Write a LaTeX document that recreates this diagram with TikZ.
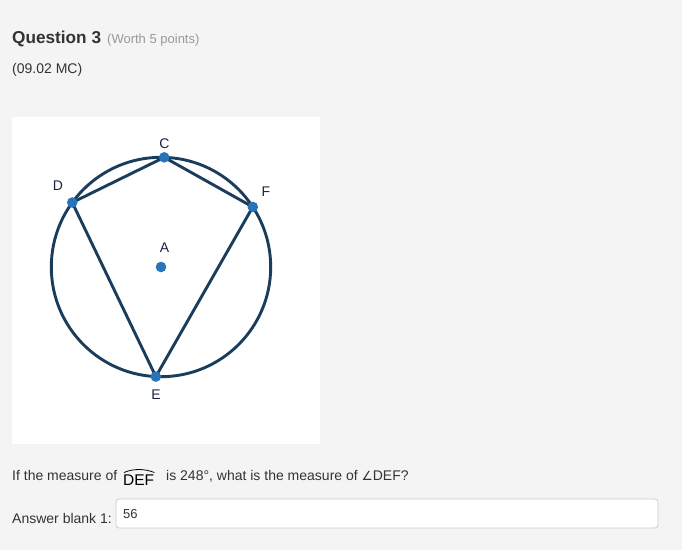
\documentclass[tikz,border=0pt]{standalone}
\usepackage{fontspec}
\setmainfont{Liberation Sans}
\newfontfamily\dejavu{DejaVu Sans}
\usetikzlibrary{calc}
\definecolor{bg}{HTML}{F4F4F4}
\definecolor{txt}{HTML}{333333}
\definecolor{muted}{HTML}{999999}
\definecolor{navy}{HTML}{1B3D5C}
\definecolor{dotblue}{HTML}{2874B9}
\definecolor{lbl}{HTML}{1C2340}
\definecolor{boxline}{HTML}{CCCCCC}
\begin{document}
\begin{tikzpicture}[x=1pt,y=-1pt,
  txtnode/.style={anchor=base west,inner sep=0pt,text=txt},
  ptlabel/.style={inner sep=0pt,text=lbl,font=\fontsize{14}{14}\selectfont},
  chord/.style={draw=navy,line width=2.9pt,line cap=round,line join=round},
  ptdot/.style={fill=dotblue}]
\useasboundingbox (0,0) rectangle (682,550);
\fill[bg] (0,0) rectangle (682,550);
% header
\node[txtnode,font=\fontsize{17.2}{17.2}\selectfont\bfseries] (q) at (12,43) {Question 3};
\node[txtnode,text=muted,font=\fontsize{13}{13}\selectfont] (w) at (107,43) {(Worth 5 points)};
\node[txtnode,font=\fontsize{14}{14}\selectfont] (mc) at (12,73) {(09.02 MC)};
% figure panel
\fill[white] (12,117) rectangle (320,444);
\coordinate (A) at (161,267);
\coordinate (C) at ($(A)+(88.3:109.7pt)$);
\coordinate (D) at ($(A)+(144:109.7pt)$);
\coordinate (F) at ($(A)+(33.2:109.7pt)$);
\coordinate (E) at ($(A)+(267.3:109.7pt)$);
\draw[navy,line width=2.9pt] (A) circle[radius=109.7pt];
\draw[chord] (D) -- (C) -- (F) -- (E) -- cycle;
\foreach \p in {A,C,D,E,F} \fill[ptdot] (\p) circle[radius=5.3pt];
\node[ptlabel] (lC) at (164.5,144) {C};
\node[ptlabel] (lD) at (58,186) {D};
\node[ptlabel] (lF) at (266,192) {F};
\node[ptlabel] (lA) at (164.5,248) {A};
\node[ptlabel] (lE) at (156,395) {E};
% question text
\node[txtnode,font=\fontsize{14}{14}\selectfont] (t1) at (12,480) {If the measure of};
\node[txtnode,text=black,font=\fontsize{15.5}{15.5}\selectfont] (def) at (123,485.5) {DEF};
\draw[black,line width=0.8pt] ($(def.base west)+(1,-13)$) .. controls ($(def.base west)+(10,-17)$) and ($(def.base east)+(-10,-17)$) .. ($(def.base east)+(0,-13)$);
\node[txtnode,font=\fontsize{14}{14}\selectfont] (t2) at (166,480) {is 248°, what is the measure of {\dejavu\fontsize{12.5}{12.5}\selectfont ∠}DEF?};
% answer
\node[txtnode,font=\fontsize{14}{14}\selectfont] (ab) at (12,523) {Answer blank 1:};
\node[draw=boxline,fill=white,rounded corners=3pt,line width=0.8pt,minimum width=542pt,minimum height=29pt,inner sep=0pt] (ans) at (387,513.5) {};
\node[txtnode,font=\fontsize{13}{13}\selectfont] (v) at (123,518) {56};
\end{tikzpicture}
\end{document}
